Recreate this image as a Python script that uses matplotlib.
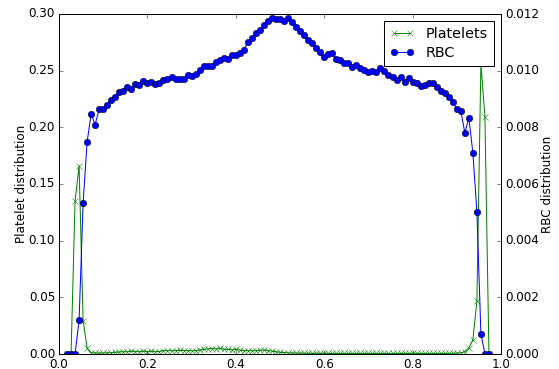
import numpy as np
import matplotlib
matplotlib.use('Agg')
import matplotlib.pyplot as plt

plt.style.use('classic')

# bin positions (110 bins over [0, 1]), only bins 2..107 are plotted
x = np.arange(2, 108) / 110.0

platelets = [0.0, 0.0, 0.135, 0.166, 0.0294, 0.005,
             0.001, 0.001, 0.0008, 0.001, 0.001, 0.0012, 0.0015, 0.0018, 0.002, 0.002,
             0.0025, 0.0022, 0.002, 0.0025, 0.002, 0.0025, 0.002, 0.0022, 0.003, 0.003,
             0.0028, 0.003, 0.0032, 0.003, 0.003, 0.0028, 0.003, 0.0035, 0.004, 0.0045,
             0.0048, 0.0045, 0.005, 0.0042, 0.004, 0.0038, 0.004, 0.0035, 0.003, 0.003,
             0.0028, 0.003, 0.0032, 0.0035, 0.003, 0.0025, 0.002, 0.0015, 0.0012, 0.001,
             0.001, 0.0008, 0.0008, 0.0007, 0.0007, 0.0006, 0.0006, 0.0006, 0.0005, 0.0005,
             0.0005, 0.0005, 0.0005, 0.0005, 0.0005, 0.0005, 0.0005, 0.0005, 0.0005, 0.0005,
             0.0005, 0.0005, 0.0005, 0.0005, 0.0005, 0.0005, 0.0005, 0.0005, 0.0005, 0.0005,
             0.0005, 0.0005, 0.0005, 0.0005, 0.0005, 0.0005, 0.0005, 0.0005, 0.0005, 0.0005,
             0.0006, 0.0008, 0.001, 0.002,
             0.0053, 0.0124, 0.0468, 0.256, 0.2095, 0.0]

rbc = [0.0, 0.0, 0.0, 0.00119, 0.00534, 0.00749, 0.00847, 0.00810, 0.00865, 0.00863,
       0.00879, 0.00898, 0.00906, 0.00926, 0.00928, 0.00941, 0.00936, 0.00954, 0.00948, 0.00964,
       0.00956, 0.00961, 0.00953, 0.00955, 0.00966, 0.00972, 0.00979, 0.00972, 0.00972, 0.00972,
       0.00986, 0.00982, 0.00990, 0.01002, 0.01016, 0.01016, 0.01018, 0.01030, 0.01036, 0.01046,
       0.01041, 0.01054, 0.01054, 0.01061, 0.01073, 0.01101, 0.01115, 0.01133, 0.01144, 0.01161,
       0.01176, 0.01185, 0.01181, 0.01181, 0.01176, 0.01185, 0.01171, 0.01155, 0.01141, 0.01126,
       0.01108, 0.01099, 0.01081, 0.01065, 0.01047, 0.01058, 0.01061, 0.01041, 0.01038, 0.01028,
       0.01026, 0.01014, 0.01020, 0.01008, 0.01002, 0.00996, 0.00998, 0.00996, 0.01008, 0.00999,
       0.00985, 0.00979, 0.00967, 0.00979, 0.00961, 0.00973, 0.00961, 0.00955, 0.00947, 0.00949,
       0.00955, 0.00955, 0.00941, 0.00929, 0.00922, 0.00908, 0.00890, 0.00864, 0.00858, 0.00781,
       0.00833, 0.00710, 0.00502, 0.00071, 0.0, 0.0]

fig = plt.figure(figsize=(559 / 72.0, 369 / 72.0), dpi=72, facecolor='white')
ax1 = fig.add_axes([59 / 559.0, 15 / 369.0, 442 / 559.0, 340 / 369.0])
ax2 = ax1.twinx()

l1, = ax1.plot(x, platelets, color='g', marker='x', markeredgecolor='g', label='Platelets')
l2, = ax2.plot(x, rbc, color='b', marker='o', markersize=6.5, label='RBC')

ax1.set_xlim(0, 1)
ax1.set_ylim(0, 0.30)
ax2.set_ylim(0, 0.012)
ax1.set_ylabel('Platelet distribution', labelpad=1)
ax2.set_ylabel('RBC distribution', labelpad=2)

ax2.legend([l1, l2], ['Platelets', 'RBC'], loc='upper right',
           handlelength=1.7, labelspacing=0.35)

fig.savefig('out.png', dpi=72, facecolor='white')
